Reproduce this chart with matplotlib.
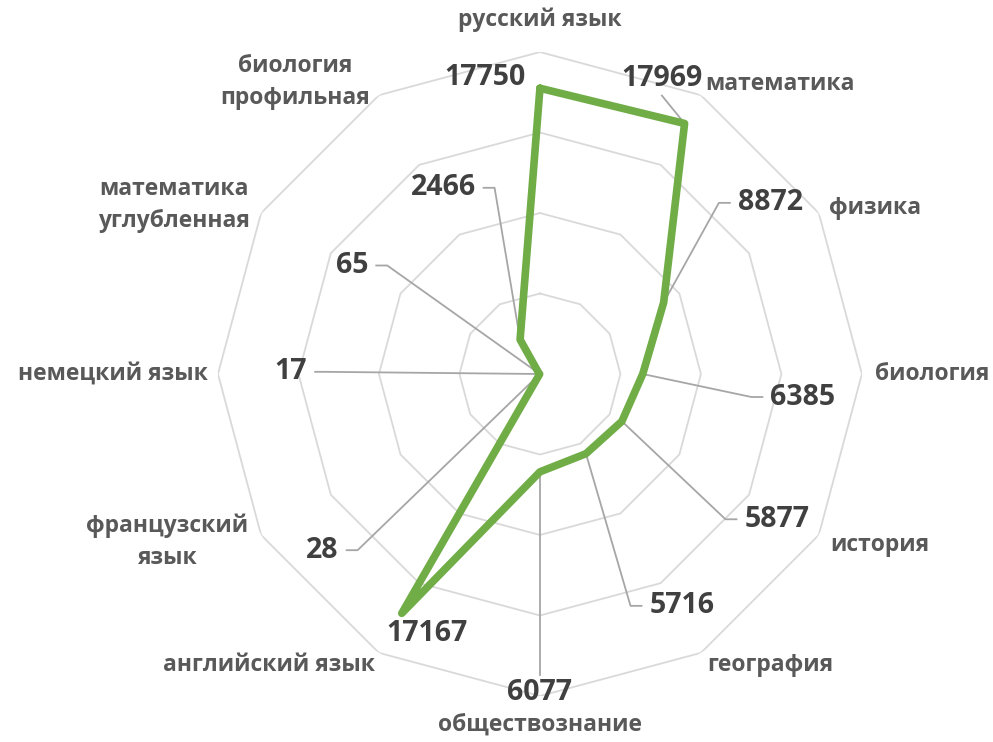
"""Radar chart: number of participants by subject."""
import matplotlib
matplotlib.use('Agg')
import matplotlib.pyplot as plt
import numpy as np

subjects = ['русский язык', 'математика', 'физика', 'биология', 'история',
            'география', 'обществознание', 'английский язык',
            'французский\nязык', 'немецкий язык', 'математика\nуглубленная',
            'биология\nпрофильная']
counts = [17750, 17969, 8872, 6385, 5877, 5716, 6077, 17167, 28, 17, 65, 2466]

rings = [5000, 10000, 15000, 20000]

# layout of the labels: (angle in degrees clockwise from top, radius in data units)
value_label_pos = [(349.5, 18760), (22.4, 19880), (53.4, 17830), (95.0, 16400),
                   (121.5, 17270), (148.5, 16890), (180.0, 19810), (203.6, 17580),
                   (231.0, 17390), (270.5, 15470), (300.0, 13480), (332.5, 13040)]
# leader style: None = no leader, 'L'/'R' = elbow from left/right side,
# 'B'/'T' = straight from bottom/top of the label
leader_side = [None, 'B', 'L', 'L', 'L', 'L', 'T', None, 'R', 'R', 'R', 'R']
cat_label_pos = [(0.0, 354), (39.6, 376), (63.6, 374), (90.0, 392), (116.7, 380),
                 (141.7, 371), (180.0, 351), (223.0, 398), (245.75, 409),
                 (270.0, 427), (294.8, 403), (320.0, 381)]

PX_MAX = 322  # pixel radius of the outer ring
LEADER = '#a6a6a6'

plt.rcParams['font.family'] = ['Open Sans', 'DejaVu Sans']

fig = plt.figure(figsize=(9.93, 7.42), dpi=100)
ax = fig.add_axes([0.2195, 0.0620, 0.6485, 0.8679], projection='polar')
ax.set_theta_zero_location('N')
ax.set_theta_direction(-1)
ax.set_ylim(0, rings[-1])
ax.grid(False)
ax.set_xticks([])
ax.set_yticks([])
ax.spines['polar'].set_visible(False)
ax.patch.set_visible(False)

n = len(subjects)
theta = np.linspace(0, 2 * np.pi, n, endpoint=False)
theta_closed = np.append(theta, theta[0])

for r in rings:
    ax.plot(theta_closed, [r] * (n + 1), color='#d9d9d9', lw=1.3, zorder=1)

vals_closed = counts + counts[:1]
ax.plot(theta_closed, vals_closed, color='#70ad47', lw=5.5, zorder=3,
        solid_joinstyle='round', solid_capstyle='round')

texts = []
for i in range(n):
    ang, rad = value_label_pos[i]
    t = ax.text(np.deg2rad(ang), rad, str(counts[i]), ha='center', va='center',
                fontsize=20.5, fontweight='bold', color='#404040',
                clip_on=False, zorder=4)
    texts.append(t)

for i in range(n):
    ang, px = cat_label_pos[i]
    ax.text(np.deg2rad(ang), px / PX_MAX * rings[-1], subjects[i],
            ha='center', va='center', fontsize=16.5, fontweight='bold',
            color='#595959', clip_on=False, linespacing=1.45)

# leader lines, computed from the rendered label boxes
fig.canvas.draw()
renderer = fig.canvas.get_renderer()
to_data = ax.transData.inverted()
GAP, SEG = 8, 11
for i, t in enumerate(texts):
    side = leader_side[i]
    if side is None:
        continue
    bb = t.get_window_extent(renderer)
    ymid = (bb.y0 + bb.y1) / 2
    if side == 'L':
        pts = [(bb.x0 - GAP, ymid), (bb.x0 - GAP - SEG, ymid)]
    elif side == 'R':
        pts = [(bb.x1 + GAP, ymid), (bb.x1 + GAP + SEG, ymid)]
    elif side == 'B':
        pts = [(bb.x0 + 0.5 * bb.width, bb.y0 - 3)]
    else:
        pts = [((bb.x0 + bb.x1) / 2, bb.y1 + 3)]
    pts = [to_data.transform(p) for p in pts]
    th = [p[0] for p in pts] + [theta[i]]
    rr = [p[1] for p in pts] + [counts[i]]
    ax.plot(th, rr, color=LEADER, lw=1.3, zorder=2, clip_on=False)

fig.savefig('out.png', dpi=100)
